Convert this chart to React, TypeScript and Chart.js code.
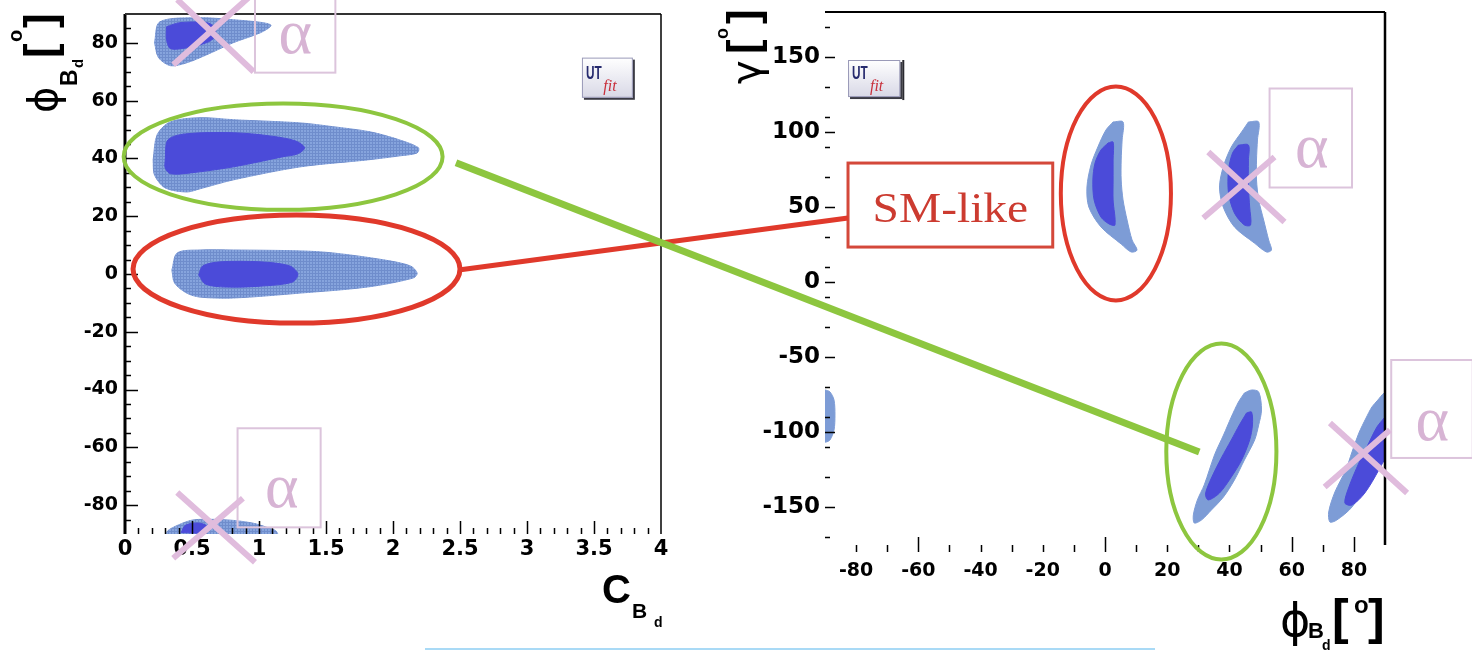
import { useEffect, useRef } from 'react';
import { Chart, registerables } from 'chart.js';

Chart.register(...registerables);

type Pt = [number, number];

/* ---------- axis ticks ---------- */
const cBdTicks = [0, 0.5, 1, 1.5, 2, 2.5, 3, 3.5, 4];
const phiBdTicksLeft = [-80, -60, -40, -20, 0, 20, 40, 60, 80];
const phiBdTicksRight = [-80, -60, -40, -20, 0, 20, 40, 60, 80];
const gammaTicks = [-150, -100, -50, 0, 50, 100, 150];
const phiLongMarks = [-60, 0, 60, 80];

/* ---------- left panel: C_Bd vs phi_Bd [deg]; 95% (outer) and 68% (inner) regions ---------- */
const upperLobe95: Pt[] = [
  [0.22, 80.1], [0.26, 87.3], [0.56, 88.7], [0.81, 88.0], [1.03, 87.0], [1.09, 86.0],
  [1.01, 83.5], [0.81, 80.1], [0.61, 75.9], [0.46, 73.1], [0.34, 72.1], [0.25, 74.9],
];
const upperLobe68: Pt[] = [
  [0.31, 85.6], [0.41, 87.0], [0.61, 87.0], [0.67, 85.3], [0.67, 82.1], [0.61, 80.1],
  [0.46, 78.3], [0.34, 78.0], [0.31, 81.1],
];
const midLobe95: Pt[] = [
  [0.21, 39.5], [0.24, 48.2], [0.34, 52.7], [0.56, 54.1], [0.81, 53.4], [1.31, 52.3],
  [1.55, 51.0], [1.83, 49.2], [2.05, 46.4], [2.19, 43.7], [2.18, 41.9], [2.05, 40.9],
  [1.81, 39.5], [1.31, 37.1], [0.81, 32.6], [0.56, 29.5], [0.46, 28.4], [0.30, 29.8],
  [0.22, 34.3],
];
const midLobe68: Pt[] = [
  [0.30, 39.5], [0.32, 46.4], [0.45, 48.5], [0.81, 48.9], [1.08, 47.8], [1.27, 46.1],
  [1.34, 43.7], [1.29, 41.6], [1.18, 40.6], [0.81, 37.1], [0.49, 35.0], [0.34, 34.7],
  [0.30, 36.7],
];
const smLobe95: Pt[] = [
  [0.35, 1.4], [0.39, 7.3], [0.56, 8.3], [0.81, 8.3], [1.31, 8.0], [1.55, 7.3],
  [1.93, 4.9], [2.13, 2.8], [2.18, 0.3], [2.15, -1.4], [1.81, -4.5], [1.31, -6.6],
  [0.81, -8.3], [0.56, -8.0], [0.46, -6.6], [0.37, -3.1],
];
const smLobe68: Pt[] = [
  [0.55, -0.3], [0.58, 2.8], [0.71, 4.2], [1.01, 4.2], [1.23, 2.8], [1.29, 0.0],
  [1.25, -2.8], [1.01, -4.2], [0.75, -4.5], [0.60, -3.5],
];
const lowerLobe95: Pt[] = [
  [0.31, -92.0], [0.31, -89.4], [0.36, -87.7], [0.49, -85.3], [0.61, -84.9], [0.81, -85.3],
  [0.96, -86.3], [1.06, -87.7], [1.13, -89.1], [1.14, -92.0],
];
const lowerLobe68: Pt[] = [
  [0.42, -89.5], [0.45, -87.0], [0.55, -86.2], [0.62, -87.5], [0.60, -89.5],
];

/* ---------- right panel: phi_Bd [deg] vs gamma [deg] ---------- */
const smRegion95: Pt[] = [
  [2.6, 106.7], [5.8, 106.7], [5.5, 94.7], [5.2, 81.3], [5.2, 68.0], [5.8, 54.7],
  [7.1, 41.3], [8.7, 28.0], [10.3, 21.3], [8.4, 20.0], [5.2, 25.3], [-1.3, 36.7],
  [-5.2, 50.0], [-5.8, 63.3], [-4.5, 78.0], [-2.3, 90.0], [0.3, 101.3],
];
const smRegion68: Pt[] = [
  [1.0, 92.7], [2.6, 93.3], [2.6, 81.3], [2.6, 68.0], [2.6, 54.7], [3.2, 38.0],
  [1.3, 38.7], [-1.3, 43.3], [-3.5, 54.7], [-3.9, 68.0], [-3.2, 79.3], [-1.3, 88.0],
];
const upperMirror95: Pt[] = [
  [46.1, 106.7], [49.4, 106.7], [49.0, 94.7], [48.7, 81.3], [48.7, 68.0], [49.4, 54.7],
  [51.0, 41.3], [52.6, 28.0], [53.5, 21.3], [51.9, 20.0], [48.0, 26.0], [41.6, 36.7],
  [38.0, 50.0], [36.8, 63.3], [38.0, 76.7], [40.6, 90.0], [43.9, 100.0],
];
const upperMirror68: Pt[] = [
  [42.9, 91.3], [46.1, 91.3], [46.1, 81.3], [46.1, 63.3], [46.5, 50.0], [46.8, 38.0],
  [44.8, 38.0], [41.6, 46.0], [39.7, 59.3], [39.7, 74.7], [41.0, 86.0],
];
const npRegion95: Pt[] = [
  [44.8, -74.0], [47.1, -72.0], [49.4, -73.3], [50.3, -85.3], [49.4, -95.3], [48.1, -105.3],
  [44.8, -118.7], [41.6, -132.0], [38.1, -143.3], [34.2, -152.0], [31.0, -158.7], [28.7, -160.7],
  [28.4, -155.3], [29.7, -145.3], [31.9, -135.3], [35.2, -115.3], [38.1, -102.0], [40.6, -90.0],
  [42.9, -80.0],
];
const npRegion68: Pt[] = [
  [45.5, -87.3], [47.1, -86.7], [47.4, -95.3], [46.5, -105.3], [43.9, -118.7], [40.6, -130.0],
  [36.8, -140.7], [33.2, -145.3], [32.3, -141.3], [34.2, -130.7], [37.4, -117.3], [40.6, -105.3],
  [43.2, -95.3],
];
const lowerMirror95: Pt[] = [
  [87.7, -78.7], [89.7, -74.0], [92.0, -72.0], [92.0, -105.0], [88.4, -118.7], [85.8, -130.0],
  [79.4, -150.0], [74.5, -158.7], [72.3, -160.0], [71.9, -153.3], [73.9, -140.0], [77.4, -125.3],
  [79.4, -113.3], [81.6, -100.7], [83.9, -90.7], [85.8, -83.3],
];
const lowerMirror68: Pt[] = [
  [89.7, -90.7], [92.0, -88.0], [92.0, -108.0], [88.0, -125.3], [83.5, -140.7], [79.4, -148.7],
  [77.1, -147.3], [78.4, -136.7], [81.6, -120.7], [84.8, -107.3], [87.4, -96.7],
];
const edgeRegion95: Pt[] = [
  [-92.0, -72.0], [-90.0, -72.0], [-88.4, -73.3], [-87.1, -78.7], [-86.8, -88.7], [-87.1, -98.7],
  [-88.4, -105.3], [-89.7, -106.7], [-92.0, -106.7],
];

/* ---------- annotation marks (data coordinates of each panel) ---------- */
const GREEN = '#8dc63f';
const RED = '#e0392b';
const PINK = '#e0bcdd';
const PINK_BOX = '#dcc4dc';
const ALPHA_INK = '#d7b4d4';

type Ring = { cx: number; cy: number; rx: number; ry: number; color: string; width: number };
type Seg = [Pt, Pt];
type AlphaBox = { x0: number; x1: number; y0: number; y1: number; ax: number; ay: number };
type Rect = { x0: number; x1: number; y0: number; y1: number };

const leftRings: Ring[] = [
  { cx: 1.18, cy: 40.6, rx: 1.19, ry: 18.4, color: GREEN, width: 4 },
  { cx: 1.28, cy: 1.7, rx: 1.22, ry: 18.7, color: RED, width: 5 },
];
const leftCrosses: Seg[] = [
  [[0.36, 72.4], [0.93, 96.0]], [[0.39, 95.0], [0.96, 70.0]],
  [[0.36, -98.4], [0.88, -77.6]], [[0.39, -75.6], [0.97, -99.8]],
];
const leftAlphaBoxes: AlphaBox[] = [
  { x0: 0.97, x1: 1.57, y0: 69.7, y1: 100, ax: 1.27, ay: 76.6 },
  { x0: 0.84, x1: 1.46, y0: -87.7, y1: -53.4, ax: 1.17, ay: -80.8 },
];
const leftLogo: Rect = { x0: 3.41, x1: 3.79, y0: 61.0, y1: 74.9 };

const rightRings: Ring[] = [
  { cx: 3.5, cy: 59, rx: 17.7, ry: 71.3, color: RED, width: 4 },
  { cx: 37.4, cy: -113, rx: 17.7, ry: 72, color: GREEN, width: 4 },
];
const rightCrosses: Seg[] = [
  [[31.6, 42.7], [54.5, 83.3]], [[33.2, 86.7], [57.7, 40.0]],
  [[70.6, -136.7], [91.6, -98.7]], [[72.3, -94.0], [97.1, -140.7]],
];
const rightAlphaBoxes: AlphaBox[] = [
  { x0: 52.9, x1: 79.4, y0: 63, y1: 129, ax: 66.5, ay: 76.7 },
  { x0: 92.0, x1: 118.2, y0: -117.3, y1: -52, ax: 105.2, ay: -105.3 },
];
const rightLogo: Rect = { x0: -82.6, x1: -65.8, y0: 123.3, y1: 148 };
const smLabel = { x0: -82.6, x1: -16.8, y0: 23.3, y1: 79.3, baseline: 40, text: 'SM-like' };

/* links between the panels: [left C, left phi] -> [right phi, right gamma] */
const greenLink: [Pt, Pt] = [[2.47, 38.5], [30.3, -113.3]];
const redLink: [Pt, Pt] = [[2.49, 1.4], [-82.6, 42.7]];

/* ---------- layout ---------- */
const PAGE_W = 1472;
const PAGE_H = 651;
const LEFT_W = 700;
const RIGHT_X = 700;
const RIGHT_W = PAGE_W - RIGHT_X;
const TICK_FAMILY = '"DejaVu Sans", "Liberation Sans", Arial, sans-serif';

const region = (pts: Pt[], color: any, order: number) => ({
  data: [...pts, pts[0]].map(([x, y]) => ({ x, y })),
  showLine: true,
  fill: 'shape',
  backgroundColor: color,
  borderColor: color,
  borderWidth: 1,
  pointRadius: 0,
  tension: 0.3,
  order,
});

const axisX = (min: number, max: number, values: number[], height: number, size: number, pad: number) => ({
  type: 'linear',
  min,
  max,
  grid: { display: false, drawTicks: false },
  border: { display: false },
  afterBuildTicks: (s: any) => { s.ticks = values.map((v) => ({ value: v })); },
  afterFit: (s: any) => { s.height = height; s.paddingLeft = 0; s.paddingRight = 0; },
  ticks: {
    font: { family: TICK_FAMILY, size, weight: 'bold' },
    color: '#000', padding: pad, autoSkip: false, maxRotation: 0, minRotation: 0,
    callback: (v: number) => String(v),
  },
});

const axisY = (min: number, max: number, values: number[], width: number, size: number, pad: number) => ({
  type: 'linear',
  min,
  max,
  grid: { display: false, drawTicks: false },
  border: { display: false },
  afterBuildTicks: (s: any) => { s.ticks = values.map((v) => ({ value: v })); },
  afterFit: (s: any) => { s.width = width; s.paddingTop = 0; s.paddingBottom = 0; },
  ticks: {
    font: { family: TICK_FAMILY, size, weight: 'bold' },
    color: '#000', padding: pad, autoSkip: false,
    callback: (v: number) => String(v),
  },
});

function meshPattern(): CanvasPattern | string {
  const c = document.createElement('canvas');
  c.width = 3;
  c.height = 3;
  const g = c.getContext('2d');
  if (!g) return '#86a3db';
  g.fillStyle = '#86a4dd';
  g.fillRect(0, 0, 3, 3);
  g.fillStyle = '#6f8dcc';
  g.fillRect(0, 0, 3, 1);
  g.fillRect(0, 0, 1, 3);
  return g.createPattern(c, 'repeat') || '#86a3db';
}

type Run = { t: string; font: string; dx: number; dy: number };

function drawRuns(ctx: CanvasRenderingContext2D, ox: number, oy: number, runs: Run[], rotated: boolean) {
  ctx.save();
  ctx.translate(ox, oy);
  if (rotated) ctx.rotate(-Math.PI / 2);
  ctx.fillStyle = '#000';
  ctx.textAlign = 'left';
  ctx.textBaseline = 'alphabetic';
  for (const r of runs) {
    ctx.font = r.font;
    ctx.fillText(r.t, r.dx, r.dy);
  }
  ctx.restore();
}

function drawLogo(ctx: CanvasRenderingContext2D, chart: any, box: Rect, bar: boolean) {
  const { x, y } = chart.scales;
  const l = x.getPixelForValue(box.x0);
  const r = x.getPixelForValue(box.x1);
  const t = y.getPixelForValue(box.y1);
  const b = y.getPixelForValue(box.y0);
  const w = r - l;
  const h = b - t;
  ctx.save();
  ctx.fillStyle = '#3a3a44';
  ctx.fillRect(l + 2, t + 2, w, h);
  const g = ctx.createLinearGradient(l, t, l, b);
  g.addColorStop(0, '#ffffff');
  g.addColorStop(1, '#d8d8e6');
  ctx.fillStyle = g;
  ctx.fillRect(l, t, w, h);
  ctx.strokeStyle = '#9a9ab8';
  ctx.lineWidth = 1;
  ctx.strokeRect(l + 0.5, t + 0.5, w - 1, h - 1);
  ctx.save();
  ctx.translate(l + 4, t + h * 0.52);
  ctx.scale(0.62, 1);
  ctx.fillStyle = '#262a6e';
  ctx.font = 'bold 19px "Liberation Sans", Arial, sans-serif';
  ctx.fillText('UT', 0, 0);
  ctx.restore();
  ctx.fillStyle = '#c8303c';
  ctx.font = 'italic 16px "Liberation Serif", serif';
  ctx.fillText('fit', l + w * 0.42, t + h * 0.84);
  if (bar) {
    ctx.fillStyle = '#2a2a30';
    ctx.fillRect(r + 2, t, 2, h + 3);
  }
  ctx.restore();
}

function drawMarks(ctx: CanvasRenderingContext2D, chart: any, rings: Ring[], crosses: Seg[], boxes: AlphaBox[]) {
  const { x, y } = chart.scales;
  ctx.save();
  for (const b of boxes) {
    const l = x.getPixelForValue(b.x0);
    const r = x.getPixelForValue(b.x1);
    const t = y.getPixelForValue(b.y1);
    const btm = y.getPixelForValue(b.y0);
    ctx.strokeStyle = PINK_BOX;
    ctx.lineWidth = 2;
    ctx.strokeRect(l, t, r - l, btm - t);
    ctx.fillStyle = ALPHA_INK;
    ctx.font = '64px "Liberation Serif", "DejaVu Serif", serif';
    ctx.textAlign = 'center';
    ctx.textBaseline = 'alphabetic';
    ctx.fillText('α', x.getPixelForValue(b.ax), y.getPixelForValue(b.ay));
  }
  for (const e of rings) {
    const cx = x.getPixelForValue(e.cx);
    const cy = y.getPixelForValue(e.cy);
    const rx = Math.abs(x.getPixelForValue(e.cx + e.rx) - cx);
    const ry = Math.abs(y.getPixelForValue(e.cy + e.ry) - cy);
    ctx.strokeStyle = e.color;
    ctx.lineWidth = e.width;
    ctx.beginPath();
    ctx.ellipse(cx, cy, rx, ry, 0, 0, Math.PI * 2);
    ctx.stroke();
  }
  ctx.strokeStyle = PINK;
  ctx.lineWidth = 6;
  ctx.lineCap = 'butt';
  for (const [p, q] of crosses) {
    ctx.beginPath();
    ctx.moveTo(x.getPixelForValue(p[0]), y.getPixelForValue(p[1]));
    ctx.lineTo(x.getPixelForValue(q[0]), y.getPixelForValue(q[1]));
    ctx.stroke();
  }
  ctx.restore();
}

/* ROOT-style frame with inward tick marks, left panel */
const leftFrame = {
  id: 'leftFrame',
  afterDraw(chart: any) {
    const { ctx, chartArea: a, scales: { x, y } } = chart;
    ctx.save();
    ctx.strokeStyle = '#000';
    ctx.lineWidth = 1.5;
    ctx.beginPath();
    for (let v = -85; v <= 85; v += 5) {
      const len = v % 20 === 0 ? 13 : 6;
      const py = Math.round(y.getPixelForValue(v)) + 0.5;
      ctx.moveTo(a.left, py);
      ctx.lineTo(a.left + len, py);
    }
    for (let i = 1; i < 40; i++) {
      const len = i % 5 === 0 ? 13 : 6;
      const px = Math.round(x.getPixelForValue(i / 10)) + 0.5;
      ctx.moveTo(px, a.bottom);
      ctx.lineTo(px, a.bottom - len);
    }
    ctx.stroke();
    ctx.lineWidth = 3;
    ctx.beginPath();
    ctx.moveTo(a.left, a.top);
    ctx.lineTo(a.left, a.bottom);
    ctx.stroke();
    ctx.strokeStyle = '#333';
    ctx.lineWidth = 2;
    ctx.beginPath();
    ctx.moveTo(a.left, a.top);
    ctx.lineTo(a.right, a.top);
    ctx.stroke();
    ctx.strokeStyle = '#000';
    ctx.lineWidth = 1.5;
    ctx.beginPath();
    ctx.moveTo(a.right, a.top);
    ctx.lineTo(a.right, a.bottom);
    ctx.stroke();
    ctx.restore();

    drawLogo(ctx, chart, leftLogo, false);
    drawMarks(ctx, chart, leftRings, leftCrosses, leftAlphaBoxes);

    // x title: C_{B_d}
    drawRuns(ctx, a.right - 59, a.bottom + 69, [
      { t: 'C', font: 'bold 40px "Liberation Sans", Arial, sans-serif', dx: 0, dy: 0 },
      { t: 'B', font: 'bold 21px "Liberation Sans", Arial, sans-serif', dx: 30, dy: 15 },
      { t: 'd', font: 'bold 14px "Liberation Sans", Arial, sans-serif', dx: 52, dy: 24 },
    ], false);
    // y title: phi_{B_d} [deg]
    drawRuns(ctx, a.left - 68, a.top + 99, [
      { t: 'ϕ', font: '40px "DejaVu Sans", sans-serif', dx: 0, dy: 0 },
      { t: 'B', font: 'bold 23px "Liberation Sans", Arial, sans-serif', dx: 27, dy: 20 },
      { t: 'd', font: 'bold 15px "Liberation Sans", Arial, sans-serif', dx: 45, dy: 26 },
      { t: '[', font: 'bold 44px "Liberation Sans", Arial, sans-serif', dx: 55, dy: -2 },
      { t: 'o', font: 'bold 20px "Liberation Sans", Arial, sans-serif', dx: 71, dy: -35 },
      { t: ']', font: 'bold 44px "Liberation Sans", Arial, sans-serif', dx: 85, dy: -2 },
    ], true);
  },
};

/* ROOT-style frame with inward tick marks, right panel */
const rightFrame = {
  id: 'rightFrame',
  afterDraw(chart: any) {
    const { ctx, chartArea: a, scales: { x, y } } = chart;
    ctx.save();
    ctx.strokeStyle = '#000';
    ctx.lineWidth = 1.5;
    ctx.beginPath();
    for (let v = -170; v <= 170; v += 10) {
      let len = 0;
      if (v % 50 === 0) len = 10;
      else if ((v - 10) % 20 === 0) len = 5;
      if (!len) continue;
      const py = Math.round(y.getPixelForValue(v)) + 0.5;
      ctx.moveTo(a.left, py);
      ctx.lineTo(a.left + len, py);
    }
    for (let v = -80; v <= 80; v += 10) {
      const len = phiLongMarks.includes(v) ? 15 : 7;
      const px = Math.round(x.getPixelForValue(v)) + 0.5;
      ctx.moveTo(px, a.bottom);
      ctx.lineTo(px, a.bottom - len);
    }
    ctx.stroke();
    ctx.lineWidth = 2;
    ctx.beginPath();
    ctx.moveTo(a.left, a.top);
    ctx.lineTo(a.right, a.top);
    ctx.stroke();
    ctx.lineWidth = 2.5;
    ctx.beginPath();
    ctx.moveTo(a.right, a.top);
    ctx.lineTo(a.right, a.bottom - 7);
    ctx.stroke();
    ctx.restore();

    drawLogo(ctx, chart, rightLogo, true);

    // SM-like label box
    ctx.save();
    const l = x.getPixelForValue(smLabel.x0);
    const r = x.getPixelForValue(smLabel.x1);
    const t = y.getPixelForValue(smLabel.y1);
    const b = y.getPixelForValue(smLabel.y0);
    ctx.fillStyle = '#fff';
    ctx.fillRect(l, t, r - l, b - t);
    ctx.strokeStyle = '#d4483a';
    ctx.lineWidth = 3;
    ctx.strokeRect(l, t, r - l, b - t);
    ctx.font = '42px "Liberation Serif", "DejaVu Serif", serif';
    const tw = ctx.measureText(smLabel.text).width;
    const target = (r - l) * 0.76;
    ctx.translate((l + r) / 2, y.getPixelForValue(smLabel.baseline));
    ctx.scale(target / tw, 1);
    ctx.fillStyle = '#cc3b30';
    ctx.textAlign = 'center';
    ctx.textBaseline = 'alphabetic';
    ctx.fillText(smLabel.text, 0, 0);
    ctx.restore();

    drawMarks(ctx, chart, rightRings, rightCrosses, rightAlphaBoxes);

    // x title: phi_{B_d} [deg]
    drawRuns(ctx, a.right - 105, a.bottom + 84, [
      { t: 'ϕ', font: '46px "DejaVu Sans", sans-serif', dx: 0, dy: 0 },
      { t: 'B', font: 'bold 22px "Liberation Sans", Arial, sans-serif', dx: 28, dy: 2 },
      { t: 'd', font: 'bold 14px "Liberation Sans", Arial, sans-serif', dx: 42, dy: 14 },
      { t: '[', font: 'bold 50px "Liberation Sans", Arial, sans-serif', dx: 52, dy: -2 },
      { t: 'o', font: 'bold 24px "Liberation Sans", Arial, sans-serif', dx: 74, dy: -23 },
      { t: ']', font: 'bold 50px "Liberation Sans", Arial, sans-serif', dx: 88, dy: -2 },
    ], false);
    // y title: gamma [deg]
    drawRuns(ctx, a.left - 65, a.top + 72, [
      { t: 'γ', font: '40px "DejaVu Sans", sans-serif', dx: 0, dy: 0 },
      { t: '[', font: 'bold 44px "Liberation Sans", Arial, sans-serif', dx: 30, dy: -2 },
      { t: 'o', font: 'bold 18px "Liberation Sans", Arial, sans-serif', dx: 45, dy: -32 },
      { t: ']', font: 'bold 44px "Liberation Sans", Arial, sans-serif', dx: 60, dy: -2 },
    ], true);
  },
};

function drawLinks(canvas: HTMLCanvasElement, left: any, right: any) {
  const ctx = canvas.getContext('2d');
  if (!ctx) return;
  ctx.clearRect(0, 0, canvas.width, canvas.height);
  const lp = (p: Pt) => [left.scales.x.getPixelForValue(p[0]), left.scales.y.getPixelForValue(p[1])];
  const rp = (p: Pt) => [RIGHT_X + right.scales.x.getPixelForValue(p[0]), right.scales.y.getPixelForValue(p[1])];
  const links: [[Pt, Pt], string, number][] = [
    [redLink, RED, 5],
    [greenLink, GREEN, 7],
  ];
  for (const [[from, to], color, width] of links) {
    const a = lp(from);
    const b = rp(to);
    ctx.strokeStyle = color;
    ctx.lineWidth = width;
    ctx.beginPath();
    ctx.moveTo(a[0], a[1]);
    ctx.lineTo(b[0], b[1]);
    ctx.stroke();
  }
  // thin light-blue rule along the bottom edge
  ctx.fillStyle = '#a9daf6';
  ctx.fillRect(425, PAGE_H - 3, 730, 2);
}

export default function App() {
  const leftRef = useRef<HTMLCanvasElement>(null);
  const rightRef = useRef<HTMLCanvasElement>(null);
  const overlayRef = useRef<HTMLCanvasElement>(null);

  useEffect(() => {
    if (!leftRef.current || !rightRef.current || !overlayRef.current) return;
    const mesh = meshPattern();
    const dark = '#4b4bd9';
    const lightR = '#7d9cd6';

    const left = new Chart(leftRef.current, {
      type: 'scatter',
      data: {
        datasets: [
          region(upperLobe95, mesh, 1), region(upperLobe68, dark, 0),
          region(midLobe95, mesh, 1), region(midLobe68, dark, 0),
          region(smLobe95, mesh, 1), region(smLobe68, dark, 0),
          region(lowerLobe95, mesh, 1), region(lowerLobe68, dark, 0),
        ] as any,
      },
      options: {
        responsive: false,
        animation: false,
        events: [],
        layout: { padding: { left: 0, top: 14, right: 39, bottom: 0 } },
        plugins: { legend: { display: false }, tooltip: { enabled: false } },
        scales: {
          x: axisX(0, 4, cBdTicks, 117, 21, 3),
          y: axisY(-90, 90, phiBdTicksLeft, 125, 19, 7),
        } as any,
      },
      plugins: [leftFrame],
    });

    const right = new Chart(rightRef.current, {
      type: 'scatter',
      data: {
        datasets: [
          region(smRegion95, lightR, 1), region(smRegion68, dark, 0),
          region(upperMirror95, lightR, 1), region(upperMirror68, dark, 0),
          region(npRegion95, lightR, 1), region(npRegion68, dark, 0),
          region(lowerMirror95, lightR, 1), region(lowerMirror68, dark, 0),
          region(edgeRegion95, lightR, 1),
        ] as any,
      },
      options: {
        responsive: false,
        animation: false,
        events: [],
        layout: { padding: { left: 0, top: 12, right: 87, bottom: 0 } },
        plugins: { legend: { display: false }, tooltip: { enabled: false } },
        scales: {
          x: axisX(-90, 90, phiBdTicksRight, 99, 19, 8),
          y: axisY(-180, 180, gammaTicks, 125, 23, 5),
        } as any,
      },
      plugins: [rightFrame],
    });

    drawLinks(overlayRef.current, left, right);

    return () => {
      left.destroy();
      right.destroy();
    };
  }, []);

  return (
    <div style={{ position: 'absolute', left: 0, top: 0, width: PAGE_W, height: PAGE_H, background: '#fff', overflow: 'hidden' }}>
      <canvas ref={leftRef} width={LEFT_W} height={PAGE_H} style={{ position: 'absolute', left: 0, top: 0, width: LEFT_W, height: PAGE_H }} />
      <canvas ref={rightRef} width={RIGHT_W} height={PAGE_H} style={{ position: 'absolute', left: RIGHT_X, top: 0, width: RIGHT_W, height: PAGE_H }} />
      <canvas ref={overlayRef} width={PAGE_W} height={PAGE_H} style={{ position: 'absolute', left: 0, top: 0, width: PAGE_W, height: PAGE_H, pointerEvents: 'none' }} />
    </div>
  );
}
